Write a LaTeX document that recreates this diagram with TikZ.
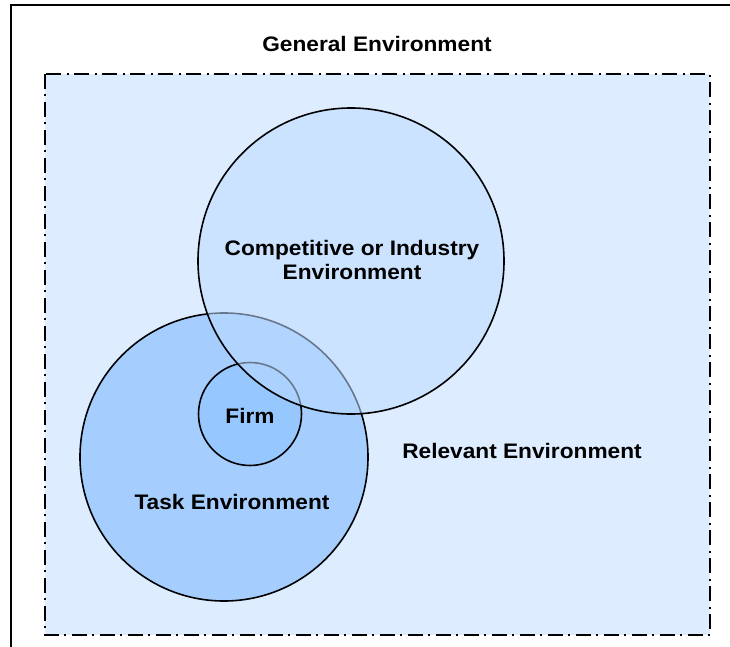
\documentclass[tikz,border=0pt]{standalone}
\usepackage{fontspec}
\setmainfont{Liberation Sans}
\newfontfamily\lblfont[FakeStretch=1.08]{Liberation Sans}
\begin{document}
\begin{tikzpicture}[x=1pt,y=-1pt,
  lbl/.style={font=\lblfont\bfseries\fontsize{21}{24}\selectfont, inner sep=0pt, align=center},
  ring/.style={draw=black, line width=1.6pt}]
\useasboundingbox (0,0) rectangle (730,647);
\definecolor{bgblue}{RGB}{222,236,255}
\definecolor{taskblue}{RGB}{165,206,255}
\definecolor{compblue}{RGB}{190,220,255}
\definecolor{firmblue}{RGB}{150,200,255}
% outer frame (cropped at right and bottom)
\draw[line width=2pt] (11,660) -- (11,5.5) -- (745,5.5);
% relevant environment box
\fill[bgblue] (45,74) rectangle (710,635);
\draw[line width=2pt, dash pattern=on 15pt off 5pt on 2pt off 6pt] (45,74) rectangle (710,635);
% task environment
\node[ring, circle, fill=taskblue, minimum size=288pt, inner sep=0pt] (task) at (224,457) {};
% firm
\node[ring, circle, fill=firmblue, minimum size=103pt, inner sep=0pt] (firm) at (250,414) {};
% competitive environment (translucent over the others)
\fill[compblue, fill opacity=0.55] (351,261) circle (153);
\node[ring, circle, minimum size=306pt, inner sep=0pt] (comp) at (351,261) {};
% labels
\node[lbl] (gen) at (377,44) {General Environment};
\node[lbl] (comptxt) at (352,260) {Competitive or Industry\\Environment};
\node[lbl] (firmtxt) at (250,416) {Firm};
\node[lbl] (tasktxt) at (232,502) {Task Environment};
\node[lbl] (reltxt) at (522,451) {Relevant Environment};
\end{tikzpicture}
\end{document}
